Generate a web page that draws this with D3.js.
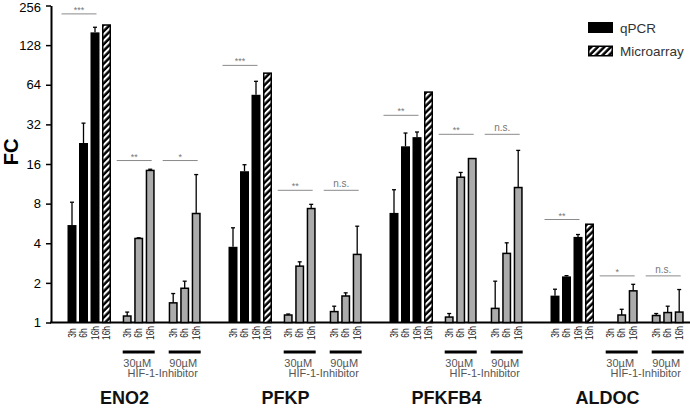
<!DOCTYPE html>
<html>
<head>
  <meta charset="UTF-8">
  <title>FC by gene</title>
  <script src="https://cdn.jsdelivr.net/npm/d3@7"></script>
  <style>
    body { margin: 0; background: #fff; }
    svg { font-family: "Liberation Sans", Arial, Helvetica, sans-serif; }
  </style>
</head>
<body>
<div id="chart"></div>
<script>
// values (fold change, log2 axis)
var genes = ["ENO2", "PFKP", "PFKFB4", "ALDOC"];
var times = ["3h", "6h", "16h"];
var qpcr = [[5.5, 23.1, 160], [3.76, 14.1, 53.7], [6.8, 21.8, 25.6], [1.6, 2.24, 4.47]];
var qpcrErr = [[8.2, 32.7, 175], [5.24, 15.8, 68], [10.2, 27.5, 28], [1.79, 2.27, 4.66]];
var microarray = [182, 78.4, 56.3, 5.58];
var inhib30 = [[1.12, 4.35, 14.3], [1.14, 2.68, 7.34], [1.1, 12.7, 17.6], [null, 1.14, 1.74]];
var inhib30Err = [[1.2, 4.4, 14.6], [1.16, 2.89, 7.9], [1.17, 13.8, 17.6], [null, 1.26, 1.95]];
var inhib90 = [[1.41, 1.82, 6.73], [1.21, 1.59, 3.29], [1.28, 3.35, 10.6], [1.13, 1.19, 1.2]];
var inhib90Err = [[1.66, 2.06, 13.3], [1.33, 1.68, 5.39], [2.06, 4.03, 20.3], [1.17, 1.33, 1.78]];
var sigLabels = [["***", "**", "*"], ["***", "**", "n.s."], ["**", "**", "n.s."], ["**", "*", "n.s."]];
var sigLevel = [[221, 17, 17], [89.8, 10.1, 10.1], [37.5, 26.9, 26.9], [6.06, 2.26, 2.26]];
var yTicks = [1, 2, 4, 8, 16, 32, 64, 128, 256];
var doses = ["30µM", "90µM"];

var W = 690, H = 408;
var axisX = 51, barW = 9;

var svg = d3.select("#chart").append("svg")
    .attr("width", W).attr("height", H);

var defs = svg.append("defs");
var pat = defs.append("pattern")
    .attr("id", "hatch")
    .attr("patternUnits", "userSpaceOnUse")
    .attr("width", 4.6).attr("height", 4.6)
    .attr("patternTransform", "rotate(45)");
pat.append("rect").attr("width", 4.6).attr("height", 4.6).attr("fill", "#000");
pat.append("rect").attr("width", 2.1).attr("height", 4.6).attr("fill", "#fff");

var y = d3.scaleLog().base(2).domain([1, 256]).range([322.5, 5.5]);

// one band per gene, slots inside it
var xGene = d3.scaleBand().domain(genes).range([67.5, 67.5 + 161 * genes.length]);
var xSlot = d3.scaleLinear().domain([0, 1]).range([0, 11.5]);
var slotQ = [0, 1, 2], slotMA = 3, slotA = [4.8, 5.8, 6.8], slotB = [8.8, 9.8, 10.8];

// build flat list of bars
var bars = [];
genes.forEach(function(g, gi) {
  times.forEach(function(t, ti) {
    bars.push({gene: g, slot: slotQ[ti], v: qpcr[gi][ti], err: qpcrErr[gi][ti], kind: "q", label: t});
  });
  bars.push({gene: g, slot: slotMA, v: microarray[gi], err: null, kind: "ma", label: "16h"});
  times.forEach(function(t, ti) {
    bars.push({gene: g, slot: slotA[ti], v: inhib30[gi][ti], err: inhib30Err[gi][ti], kind: "i", label: t});
  });
  times.forEach(function(t, ti) {
    bars.push({gene: g, slot: slotB[ti], v: inhib90[gi][ti], err: inhib90Err[gi][ti], kind: "i", label: t});
  });
});

function bx(d) { return xGene(d.gene) + xSlot(d.slot); }

// axes
var yAxis = d3.axisLeft(y).tickValues(yTicks).tickFormat(d3.format("d"))
    .tickSize(5).tickSizeOuter(0).tickPadding(5);
var ya = svg.append("g").attr("transform", "translate(" + axisX + ",0)").call(yAxis);
ya.select(".domain").attr("stroke-width", 2);
ya.selectAll(".tick line").attr("stroke-width", 1.5);
ya.selectAll(".tick text").attr("font-size", 13).attr("fill", "#000")
    .attr("dy", function(d) { return d == 256 ? "0.45em" : "0.32em"; });

svg.append("line")
    .attr("x1", axisX - 1).attr("x2", W)
    .attr("y1", y(1)).attr("y2", y(1))
    .attr("stroke", "#000").attr("stroke-width", 2);

svg.append("text")
    .attr("transform", "translate(18," + 152 + ") rotate(-90)")
    .attr("text-anchor", "middle")
    .attr("font-size", 20).attr("font-weight", "bold")
    .text("FC");

// bars
var shown = bars.filter(function(d) { return d.v != null; });
svg.append("g").selectAll("rect").data(shown).join("rect")
    .attr("x", function(d) { return d.kind == "q" ? bx(d) : bx(d) + 0.75; })
    .attr("width", function(d) { return d.kind == "q" ? barW : barW - 1.5; })
    .attr("y", function(d) { return y(d.v); })
    .attr("height", function(d) { return y(1) - y(d.v); })
    .attr("fill", function(d) { return d.kind == "q" ? "#000" : d.kind == "ma" ? "url(#hatch)" : "#ababab"; })
    .attr("stroke", function(d) { return d.kind == "q" ? "none" : "#000"; })
    .attr("stroke-width", 1.5);

// error bars (upper only)
var eb = svg.append("g").attr("stroke", "#000").attr("stroke-width", 1.3)
    .selectAll("g").data(shown.filter(function(d) { return d.err != null && d.err > d.v; })).join("g");
eb.append("line")
    .attr("x1", function(d) { return bx(d) + barW / 2; })
    .attr("x2", function(d) { return bx(d) + barW / 2; })
    .attr("y1", function(d) { return y(d.v); })
    .attr("y2", function(d) { return y(d.err); });
eb.append("line")
    .attr("x1", function(d) { return bx(d) + barW / 2 - 2; })
    .attr("x2", function(d) { return bx(d) + barW / 2 + 2; })
    .attr("y1", function(d) { return y(d.err); })
    .attr("y2", function(d) { return y(d.err); });

// time labels under the bars (narrow, rotated)
svg.append("g").selectAll("text").data(bars).join("text")
    .attr("transform", function(d) { return "translate(" + (bx(d) + barW / 2) + ",333) rotate(-90) scale(0.8,1)"; })
    .attr("text-anchor", "middle").attr("dy", "0.36em")
    .attr("font-size", 10.5).attr("fill", "#222")
    .text(function(d) { return d.label; });

// significance brackets
var sig = [];
genes.forEach(function(g, gi) {
  [slotQ[1], slotA[1], slotB[1]].forEach(function(s, si) {
    sig.push({gene: g, slot: s, level: sigLevel[gi][si], label: sigLabels[gi][si]});
  });
});
var sg = svg.append("g").selectAll("g").data(sig).join("g");
sg.append("line")
    .attr("x1", function(d) { return bx(d) - 17.5; })
    .attr("x2", function(d) { return bx(d) + 17.5; })
    .attr("y1", function(d) { return y(d.level); })
    .attr("y2", function(d) { return y(d.level); })
    .attr("stroke", "#8a8a8a").attr("stroke-width", 1);
sg.append("text")
    .attr("x", function(d) { return bx(d); })
    .attr("y", function(d) { return y(d.level) - (d.label == "n.s." ? 3 : 1); })
    .attr("text-anchor", "middle")
    .attr("font-size", function(d) { return d.label == "n.s." ? 10 : 9; })
    .attr("fill", "#777")
    .text(function(d) { return d.label; });

// inhibitor groups: underline + dose text
genes.forEach(function(g) {
  [slotA, slotB].forEach(function(sl, k) {
    var x0 = xGene(g) + xSlot(sl[0]), x1 = xGene(g) + xSlot(sl[2]) + barW;
    svg.append("rect")
        .attr("x", x0).attr("y", 350.5).attr("width", x1 - x0).attr("height", 3)
        .attr("fill", "#000");
    svg.append("text")
        .attr("x", (x0 + x1) / 2 - 1.5).attr("y", 366.5)
        .attr("text-anchor", "middle").attr("font-size", 11).attr("fill", "#555")
        .text(doses[k]);
  });
  var mid = (xGene(g) + xSlot(slotA[0]) + xGene(g) + xSlot(slotB[2]) + barW) / 2;
  svg.append("text")
      .attr("x", mid + 1).attr("y", 377)
      .attr("text-anchor", "middle").attr("font-size", 11).attr("fill", "#555")
      .text("HIF-1-Inhibitor");
});

// gene names
svg.append("g").selectAll("text").data(genes).join("text")
    .attr("x", function(g) { return xGene(g) + 57; })
    .attr("y", 404)
    .attr("text-anchor", "middle")
    .attr("font-size", 18).attr("font-weight", "bold").attr("fill", "#111")
    .text(function(g) { return g; });

// legend
var legendItems = [{name: "qPCR", fill: "#000", stroke: "none"}, {name: "Microarray", fill: "url(#hatch)", stroke: "#000"}];
var lg = svg.append("g").selectAll("g").data(legendItems).join("g")
    .attr("transform", function(d, i) { return "translate(588," + (22 + i * 23.5) + ")"; });
lg.append("rect")
    .attr("x", function(d) { return d.stroke == "none" ? 0 : 0.75; })
    .attr("y", function(d) { return d.stroke == "none" ? 0 : 0.75; })
    .attr("width", function(d) { return d.stroke == "none" ? 25 : 23.5; })
    .attr("height", function(d) { return d.stroke == "none" ? 11 : 9.5; })
    .attr("fill", function(d) { return d.fill; })
    .attr("stroke", function(d) { return d.stroke; })
    .attr("stroke-width", 1.5);
lg.append("text")
    .attr("x", 32).attr("y", 10.5)
    .attr("font-size", 13.5).attr("fill", "#333")
    .text(function(d) { return d.name; });
</script>
</body>
</html>
